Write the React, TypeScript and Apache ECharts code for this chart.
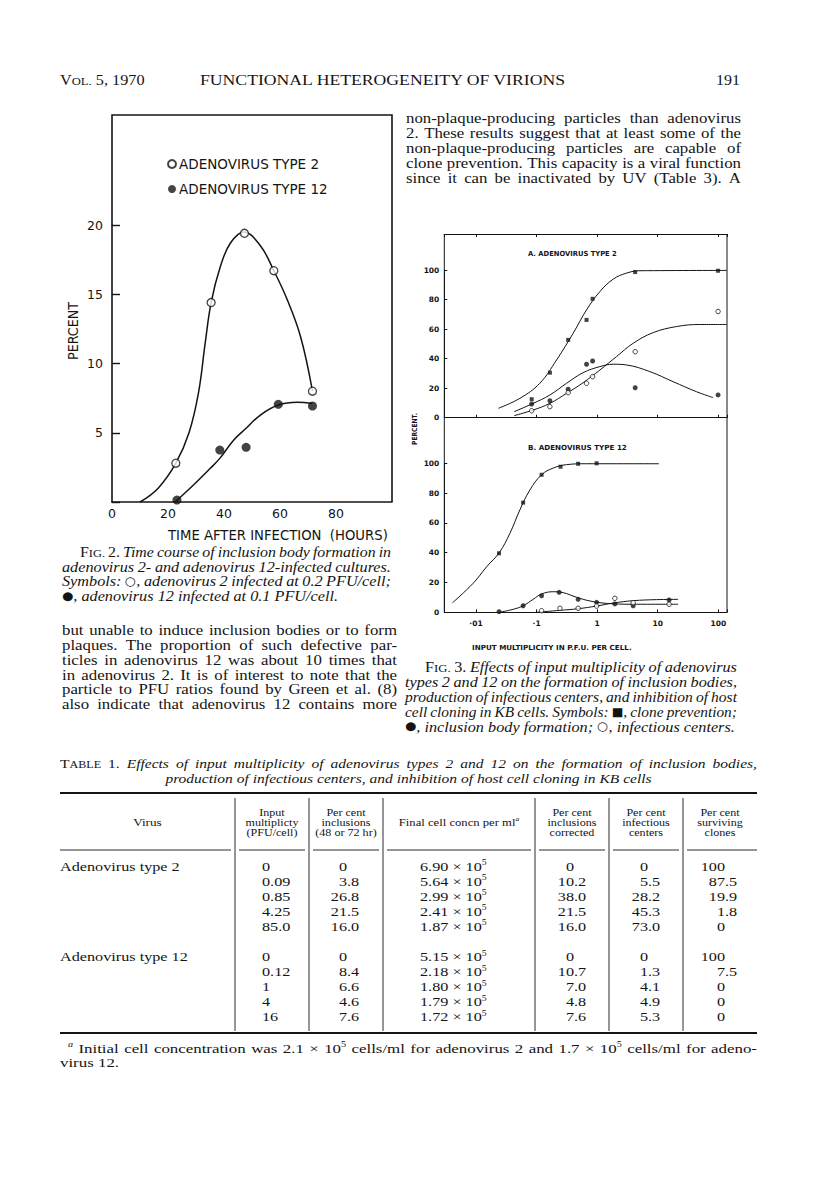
import React, { useEffect, useRef } from 'react';
import * as echarts from 'echarts';

// ---------------- Fig. 2 data (time course) ----------------
const fig2XTicks = [0, 20, 40, 60, 80];
const fig2YTicks = [0, 5, 10, 15, 20];
const fig2Type2Points = [[22.8, 2.8], [35.4, 14.4], [47.3, 19.4], [57.8, 16.7], [71.6, 8.0]];
const fig2Type12Points = [[23.2, 0.14], [38.5, 3.75], [47.9, 3.95], [59.4, 7.05], [71.6, 6.93]];
const fig2Type2Curve = [[10, 0], [16.5, 1.0], [22.8, 2.8], [27.5, 5.0], [30.9, 7.9], [33.3, 11.5], [35.4, 14.4], [38.7, 17.0], [42.3, 18.7], [47.1, 19.5], [53, 18.5], [57.8, 16.7], [62.6, 14.6], [67.4, 11.9], [71.6, 8.0]];
const fig2Type12Curve = [[22.5, 0], [29.1, 1.23], [35.1, 2.43], [38.5, 3.15], [43.5, 4.48], [47.9, 5.32], [53.0, 6.28], [59.4, 7.0], [66.2, 7.2], [71.6, 7.12]];

// ---------------- Fig. 3 data (input multiplicity) ----------------
const fig3XLabels = ['·01', '·1', '1', '10', '100'];
const fig3YTicks = [0, 20, 40, 60, 80, 100];
// A. adenovirus type 2
const aX = [0.083, 0.166, 0.332, 0.668, 0.84, 4.24, 99];
const aClone = [12.5, 30.5, 52.7, 66.2, 80.5, 98.6, 99.5];
const aInclusion = [9.3, 11.5, 19.3, 36.2, 38.4, 20.3, 15.4];
const aInfectious = [4.7, 7.5, 17.0, 23.3, 27.8, 44.7, 71.9];
const aCloneCurve = [[0.0235, 6.4], [0.053, 13.1], [0.113, 23.3], [0.214, 39.1], [0.402, 57.2], [0.668, 73.0], [1.11, 85.4], [1.84, 93.8], [3.05, 97.9], [5.07, 99.5], [138, 99.7]];
const aInclusionCurve = [[0.0427, 4.1], [0.0879, 9.7], [0.166, 15.4], [0.313, 23.3], [0.587, 30.5], [1.11, 34.6], [1.84, 36.2], [3.05, 35.7], [7.41, 31.2], [17.9, 24.4], [43.6, 17.6], [82, 13.6]];
const aInfectiousCurve = [[0.0427, 1.4], [0.0879, 5.2], [0.166, 9.7], [0.313, 16.5], [0.587, 23.7], [1.11, 32.3], [2.09, 41.4], [3.93, 50.4], [8.4, 57.6], [20.4, 61.7], [49.5, 63.1], [138, 63.1]];
// B. adenovirus type 12
const bCloneX = [0.024, 0.06, 0.121, 0.249, 0.485, 0.98];
const bClone = [39.6, 73.6, 92.3, 97.7, 99.7, 100];
const bInclusionX = [0.024, 0.06, 0.121, 0.236, 0.485, 0.98, 1.96, 3.93, 15.4];
const bInclusion = [0.4, 4.4, 11.1, 13.4, 8.7, 6.7, 5.6, 4.4, 8.3];
const bInfectiousX = [0.121, 0.243, 0.485, 0.98, 1.96, 3.93, 15.4];
const bInfectious = [1.1, 2.7, 2.7, 4.2, 9.4, 6.4, 5.4];
const bCloneCurve = [[0.0041, 6.4], [0.009, 19.5], [0.015, 30.6], [0.0242, 40], [0.0363, 53], [0.053, 68.7], [0.0776, 82.1], [0.121, 92.3], [0.188, 96.8], [0.313, 99.1], [0.668, 99.7], [10.5, 99.7]];
const bInclusionCurve = [[0.0242, 0], [0.0411, 2.0], [0.06, 4.4], [0.0879, 8.7], [0.121, 12.3], [0.188, 13.8], [0.275, 13.2], [0.456, 10.1], [0.759, 7.6], [1.43, 6.0], [3.93, 5.4], [21.7, 5.4]];
const bInfectiousCurve = [[0.1, 0], [0.242, 1.3], [0.485, 2.4], [0.977, 4.2], [1.84, 6.2], [3.93, 7.8], [9.55, 8.5], [21.7, 8.7]];

// ---------------- Table 1 ----------------
const tableGroups = ['Adenovirus type 2', 'Adenovirus type 12'];
const inputMult = [['0', '0.09', '0.85', '4.25', '85.0'], ['0', '0.12', '1', '4', '16']];
const pctInclusions = [['0', '3.8', '26.8', '21.5', '16.0'], ['0', '8.4', '6.6', '4.6', '7.6']];
const finalConc = [['6.90', '5.64', '2.99', '2.41', '1.87'], ['5.15', '2.18', '1.80', '1.79', '1.72']];
const pctCorrected = [['0', '10.2', '38.0', '21.5', '16.0'], ['0', '10.7', '7.0', '4.8', '7.6']];
const pctInfectious = [['0', '5.5', '28.2', '45.3', '73.0'], ['0', '1.3', '4.1', '4.9', '5.3']];
const pctSurviving = [['100', '87.5', '19.9', '1.8', '0'], ['100', '7.5', '0', '0', '0']];

// ---------------- Page text ----------------
type Run = { t: string; f: string };
const rightBody = [
  'non-plaque-producing particles than adenovirus',
  '2. These results suggest that at least some of the',
  'non-plaque-producing particles are capable of',
  'clone prevention. This capacity is a viral function',
  'since it can be inactivated by UV (Table 3). A',
];
const leftBody = [
  'but unable to induce inclusion bodies or to form',
  'plaques. The proportion of such defective par-',
  'ticles in adenovirus 12 was about 10 times that',
  'in adenovirus 2. It is of interest to note that the',
  'particle to PFU ratios found by Green et al. (8)',
  'also indicate that adenovirus 12 contains more',
];
const fig2Caption: Run[][] = [
  [{ t: 'FIG.', f: 'sc' }, { t: ' 2. ', f: 'r' }, { t: 'Time course of inclusion body formation in', f: 'i' }],
  [{ t: 'adenovirus 2- and adenovirus 12-infected cultures.', f: 'i' }],
  [{ t: 'Symbols: ', f: 'i' }, { t: '○', f: 'sym' }, { t: ', adenovirus 2 infected at 0.2 PFU/cell;', f: 'i' }],
  [{ t: '●', f: 'sym' }, { t: ', adenovirus 12 infected at 0.1 PFU/cell.', f: 'i' }],
];
const fig3Caption: Run[][] = [
  [{ t: 'FIG.', f: 'sc' }, { t: ' 3. ', f: 'r' }, { t: 'Effects of input multiplicity of adenovirus', f: 'i' }],
  [{ t: 'types 2 and 12 on the formation of inclusion bodies,', f: 'i' }],
  [{ t: 'production of infectious centers, and inhibition of host', f: 'i' }],
  [{ t: 'cell cloning in KB cells. Symbols: ', f: 'i' }, { t: '■', f: 'sym' }, { t: ', clone prevention;', f: 'i' }],
  [{ t: '●', f: 'sym' }, { t: ', inclusion body formation; ', f: 'i' }, { t: '○', f: 'sym' }, { t: ', infectious centers.', f: 'i' }],
];
const tableCaption: Run[][] = [
  [{ t: 'TABLE', f: 'sc' }, { t: ' 1. ', f: 'r' }, { t: 'Effects of input multiplicity of adenovirus types 2 and 12 on the formation of inclusion bodies,', f: 'i' }],
  [{ t: 'production of infectious centers, and inhibition of host cell cloning in KB cells', f: 'i' }],
];
const footnote: Run[][] = [
  [{ t: 'a', f: 'supi' }, { t: ' Initial cell concentration was 2.1 × 10', f: 'r' }, { t: '5', f: 'sup' }, { t: ' cells/ml for adenovirus 2 and 1.7 × 10', f: 'r' }, { t: '5', f: 'sup' }, { t: ' cells/ml for adeno-', f: 'r' }],
  [{ t: 'virus 12.', f: 'r' }],
];
const headerCols = [
  { cx: 272, lines: ['Input', 'multiplicty', '(PFU/cell)'] },
  { cx: 346, lines: ['Per cent', 'inclusions', '(48 or 72 hr)'] },
  { cx: 572, lines: ['Per cent', 'inclusions', 'corrected'] },
  { cx: 646, lines: ['Per cent', 'infectious', 'centers'] },
  { cx: 720, lines: ['Per cent', 'surviving', 'clones'] },
];

// ---------------- helpers ----------------
const INK = '#141414';
const SERIF = '"Liberation Serif", "Times New Roman", serif';
const SANS = '"DejaVu Sans", "Liberation Sans", sans-serif';
const S = 1.2;

let ctx: CanvasRenderingContext2D | null = null;
function tw(text: string, font: string) {
  if (!ctx) ctx = document.createElement('canvas').getContext('2d');
  ctx!.font = font;
  return ctx!.measureText(text).width;
}

function pieces(word: string, kind: string, size: number) {
  if (kind === 'i') return [{ t: word, font: `italic ${size}px ${SERIF}`, dy: 0 }];
  if (kind === 'sc') {
    const s2 = size * 0.78;
    const out = [{ t: word[0], font: `${size}px ${SERIF}`, dy: 0 }];
    if (word.length > 1) out.push({ t: word.slice(1), font: `${s2}px ${SERIF}`, dy: 0.34 * (size - s2) });
    return out;
  }
  if (kind === 'sup') return [{ t: word, font: `${size * 0.6}px ${SERIF}`, dy: -size * 0.27 }];
  if (kind === 'supi') return [{ t: word, font: `italic ${size * 0.6}px ${SERIF}`, dy: -size * 0.27 }];
  if (kind === 'sym') return [{ t: word, font: `${size * 0.8}px ${SANS}`, dy: 0 }];
  return [{ t: word, font: `${size}px ${SERIF}`, dy: 0 }];
}

function runsToWords(runs: Run[], size: number) {
  const words: any[][] = [];
  let cur: any[] = [];
  for (const r of runs) {
    const parts = r.t.split(' ');
    parts.forEach((p, i) => {
      if (i > 0 && cur.length) { words.push(cur); cur = []; }
      if (p) cur.push(...pieces(p, r.f, size));
    });
  }
  if (cur.length) words.push(cur);
  return words;
}

function txt(x: number, y: number, text: string, font: string, scaleX = 1, align = 'left', extra: any = {}) {
  return {
    type: 'text', x, y, scaleX, silent: true, ...extra,
    style: { text, font, fill: INK, textAlign: align, align, textVerticalAlign: 'middle', verticalAlign: 'middle' },
  };
}

function layoutLine(runs: Run[], x0: number, x1: number, y: number, size: number, mode: string, s = S) {
  const words = runsToWords(runs, size);
  const widths = words.map((w) => w.reduce((a: number, p: any) => a + tw(p.t, p.font), 0));
  const space = tw(' ', `${size}px ${SERIF}`);
  const total = widths.reduce((a, b) => a + b, 0);
  const n = words.length;
  const avail = x1 - x0;
  let sc = s;
  if (mode === 'justify' && n > 1) {
    const minGap = space * 0.75 * s;
    if (total * sc + minGap * (n - 1) > avail) sc = (avail - minGap * (n - 1)) / total;
  }
  let gap = space * sc;
  const lineW = total * sc + gap * (n - 1);
  let x = x0;
  if (mode === 'justify' && n > 1) gap = (avail - total * sc) / (n - 1);
  else if (mode === 'center') x = (x0 + x1) / 2 - lineW / 2;
  else if (mode === 'right') x = x1 - lineW;
  const els: any[] = [];
  words.forEach((w) => {
    w.forEach((p: any) => {
      els.push(txt(x, y + p.dy, p.t, p.font, sc));
      x += tw(p.t, p.font) * sc;
    });
    x += gap;
  });
  return els;
}

function fitText(text: string, x0: number, x1: number, y: number, font: string) {
  return txt(x0, y, text, font, (x1 - x0) / tw(text, font));
}
function fitRot(text: string, cx: number, cy: number, len: number, font: string) {
  return txt(cx, cy, text, font, len / tw(text, font), 'center', { rotation: Math.PI / 2 });
}
function decimalAt(v: string, dx: number, y: number, size: number) {
  const font = `${size}px ${SERIF}`;
  const intPart = v.split('.')[0];
  return txt(dx - tw(intPart, font) * S, y, v, font, S);
}

function buildGraphics() {
  const els: any[] = [];
  const line = (x1: number, y1: number, x2: number, y2: number, w = 1) =>
    els.push({ type: 'line', silent: true, shape: { x1, y1, x2, y2 }, style: { stroke: INK, lineWidth: w } });

  // running head
  els.push(...layoutLine([{ t: 'VOL.', f: 'sc' }, { t: ' 5, 1970', f: 'r' }], 60, 200, 80, 14.5, 'left', 1.12));
  els.push(fitText('FUNCTIONAL HETEROGENEITY OF VIRIONS', 200, 567, 80, `14.5px ${SERIF}`));
  els.push(fitText('191', 716, 740, 80, `15.5px ${SERIF}`));

  // body text
  rightBody.forEach((l, i) => els.push(...layoutLine([{ t: l, f: 'r' }], 406, 741, 117.5 + i * 15, 15, 'justify', 1.12)));
  leftBody.forEach((l, i) => els.push(...layoutLine([{ t: l, f: 'r' }], 62, 397, 630 + i * 14.8, 15, 'justify', 1.12)));

  // Fig. 2 frame + labels
  els.push({ type: 'polyline', silent: true, shape: { points: [[112, 225], [112, 115], [392, 115], [392, 502]] }, style: { stroke: INK, lineWidth: 1.6, fill: null } });
  els.push(fitText('TIME AFTER INFECTION  (HOURS)', 168, 388, 535, `13.5px ${SANS}`));
  els.push(fitRot('PERCENT', 73, 331, 58, `13.5px ${SANS}`));
  fig2Caption.forEach((runs, i) =>
    els.push(...layoutLine(runs, i === 0 ? 80 : 62, 391, 552 + i * 14.6, 14.5, i === fig2Caption.length - 1 ? 'left' : 'justify', 1.12)));

  // Fig. 3 frame + labels
  line(444.3, 234, 444.3, 612.3, 1);
  line(727, 234, 727, 612.3, 1);
  els.push(fitText('A. ADENOVIRUS TYPE 2', 528, 617, 254, `bold 7px ${SANS}`));
  els.push(fitText('B. ADENOVIRUS TYPE 12', 528, 627, 448, `bold 7px ${SANS}`));
  els.push(fitText('INPUT MULTIPLICITY IN P.F.U. PER CELL.', 472, 632, 648, `bold 7px ${SANS}`));
  els.push(fitRot('PERCENT.', 415, 429, 32, `bold 7px ${SANS}`));
  fig3Caption.forEach((runs, i) =>
    els.push(...layoutLine(runs, i === 0 ? 425 : 405, 737, 666.7 + i * 15, 14.5, i === fig3Caption.length - 1 ? 'left' : 'justify', 1.12)));

  // Table 1
  els.push(...layoutLine(tableCaption[0], 60, 757, 763, 13.5, 'justify', 1.15));
  els.push(...layoutLine(tableCaption[1], 60, 757, 778, 13.5, 'center', 1.15));
  line(60, 793, 757, 793, 2);
  const seps = [235, 309, 383, 535, 609, 683];
  seps.forEach((x) => line(x, 798, x, 1031, 0.9));
  const segs = [[60, 231], [239, 305], [313, 379], [387, 531], [539, 605], [613, 679], [687, 757]];
  segs.forEach(([a, b]) => line(a, 850, b, 850, 0.9));
  line(60, 1033, 757, 1033, 2);

  els.push(...layoutLine([{ t: 'Virus', f: 'r' }], 60, 235, 822, 11, 'center'));
  headerCols.forEach((c) => c.lines.forEach((l, j) =>
    els.push(...layoutLine([{ t: l, f: 'r' }], c.cx - 40, c.cx + 40, 812 + j * 10, 10.5, 'center', 1.15))));
  els.push(...layoutLine([{ t: 'Final cell concn per ml', f: 'r' }, { t: 'a', f: 'supi' }], 383, 535, 822, 11, 'center', 1.15));

  tableGroups.forEach((g, gi) => {
    const y0 = gi === 0 ? 866 : 956.5;
    els.push(...layoutLine([{ t: g, f: 'r' }], 60, 235, y0, 13.5, 'left'));
    for (let r = 0; r < 5; r++) {
      const y = y0 + r * 15;
      els.push(txt(262, y, inputMult[gi][r], `13.5px ${SERIF}`, S));
      els.push(decimalAt(pctInclusions[gi][r], 347, y, 13.5));
      els.push(...layoutLine([{ t: `${finalConc[gi][r]} × 10`, f: 'r' }, { t: '5', f: 'sup' }], 420, 530, y, 13.5, 'left'));
      els.push(decimalAt(pctCorrected[gi][r], 574, y, 13.5));
      els.push(decimalAt(pctInfectious[gi][r], 648, y, 13.5));
      els.push(decimalAt(pctSurviving[gi][r], 725, y, 13.5));
    }
  });
  els.push(...layoutLine(footnote[0], 68, 757, 1048, 13.5, 'justify', 1.25));
  els.push(...layoutLine(footnote[1], 60, 757, 1062, 13.5, 'left', 1.25));
  return els;
}

function fig3Label(v: number) {
  const k = Math.log10(v);
  const r = Math.round(k);
  if (Math.abs(k - r) < 1e-6 && r >= -2 && r <= 2) return fig3XLabels[r + 2];
  return '';
}

function buildOption() {
  const curve = (data: number[][], xi: number, yi: number, w: number) => ({
    type: 'line', data, xAxisIndex: xi, yAxisIndex: yi, smooth: 0.4, showSymbol: false, silent: true, clip: false,
    lineStyle: { color: INK, width: w }, z: 3,
  });
  const pts = (xs: number[], ys: number[]) => xs.map((x, i) => [x, ys[i]]);
  const sq = (data: number[][], xi: number, yi: number) => ({ type: 'scatter', data, xAxisIndex: xi, yAxisIndex: yi, symbol: 'rect', symbolSize: 4, itemStyle: { color: INK }, silent: true, z: 5 });
  const dot = (data: number[][], xi: number, yi: number) => ({ type: 'scatter', data, xAxisIndex: xi, yAxisIndex: yi, symbol: 'circle', symbolSize: 5, itemStyle: { color: INK }, silent: true, z: 5 });
  const ring = (data: number[][], xi: number, yi: number) => ({ type: 'scatter', data, xAxisIndex: xi, yAxisIndex: yi, symbol: 'circle', symbolSize: 4.5, itemStyle: { color: '#fff', borderColor: INK, borderWidth: 1 }, silent: true, z: 6 });

  const logAxis = (gridIndex: number, extra: any) => ({
    gridIndex, type: 'log', logBase: 10, min: 0.003, max: 139,
    axisLine: { show: true, lineStyle: { color: INK, width: 1 } },
    axisTick: { show: true, inside: true, length: 3, lineStyle: { color: INK, width: 1 } },
    splitLine: { show: false }, minorTick: { show: false },
    axisLabel: { show: false },
    ...extra,
  });
  const pctAxis = (gridIndex: number) => ({
    gridIndex, type: 'value', min: 0, max: 100, interval: 20,
    axisLine: { show: true, lineStyle: { color: INK, width: 1 } },
    axisTick: { show: true, inside: true, length: 3, lineStyle: { color: INK } },
    splitLine: { show: false },
    axisLabel: { formatter: (v: number) => (fig3YTicks.includes(v) ? String(v) : ''), color: INK, fontFamily: SANS, fontWeight: 'bold', fontSize: 7.5, margin: 5 },
  });

  return {
    animation: false,
    backgroundColor: '#ffffff',
    grid: [
      { left: 112, top: 225, width: 280, height: 277 },
      { left: 444.3, top: 270, width: 282.7, height: 147.7 },
      { left: 444.3, top: 463.3, width: 282.7, height: 149 },
    ],
    legend: {
      data: [{ name: 'ADENOVIRUS TYPE 2', icon: 'circle' }, { name: 'ADENOVIRUS TYPE 12', icon: 'circle' }],
      orient: 'vertical', left: 162, top: 152, itemWidth: 8, itemHeight: 8, itemGap: 11, selectedMode: false,
      textStyle: { fontFamily: SANS, fontSize: 13.5, color: INK, padding: [0, 0, 0, -2] },
    },
    xAxis: [
      {
        gridIndex: 0, type: 'value', min: 0, max: 100, interval: 20,
        axisLine: { show: true, lineStyle: { color: INK, width: 1.6 } },
        axisTick: { show: false }, splitLine: { show: false },
        axisLabel: { formatter: (v: number) => (fig2XTicks.includes(v) ? String(v) : ''), color: INK, fontFamily: SANS, fontSize: 12.5, margin: 5 },
      },
      logAxis(1, {}),
      logAxis(1, { position: 'top', offset: 36 }),
      logAxis(2, { axisLabel: { show: true, formatter: fig3Label, color: INK, fontFamily: SANS, fontWeight: 'bold', fontSize: 7.5, margin: 7 } }),
    ],
    yAxis: [
      {
        gridIndex: 0, type: 'value', min: 0, max: 20, interval: 5,
        axisLine: { show: true, lineStyle: { color: INK, width: 1.6 } },
        axisTick: { show: true, inside: true, length: 8, lineStyle: { color: INK, width: 1.4 } },
        splitLine: { show: false },
        axisLabel: { formatter: (v: number) => (fig2YTicks.includes(v) && v > 0 ? String(v) : ''), color: INK, fontFamily: SANS, fontSize: 12.5, margin: 9 },
      },
      pctAxis(1),
      pctAxis(2),
    ],
    series: [
      curve(fig2Type2Curve, 0, 0, 1.5),
      curve(fig2Type12Curve, 0, 0, 1.5),
      { name: 'ADENOVIRUS TYPE 2', type: 'scatter', data: fig2Type2Points, xAxisIndex: 0, yAxisIndex: 0, symbol: 'circle', symbolSize: 8, itemStyle: { color: '#fff', borderColor: INK, borderWidth: 1.3 }, silent: true, z: 6 },
      { name: 'ADENOVIRUS TYPE 12', type: 'scatter', data: fig2Type12Points, xAxisIndex: 0, yAxisIndex: 0, symbol: 'circle', symbolSize: 9, itemStyle: { color: INK }, silent: true, z: 6 },
      curve(aCloneCurve, 1, 1, 1),
      curve(aInclusionCurve, 1, 1, 1),
      curve(aInfectiousCurve, 1, 1, 1),
      sq(pts(aX, aClone), 1, 1),
      dot(pts(aX, aInclusion), 1, 1),
      ring(pts(aX, aInfectious), 1, 1),
      curve(bCloneCurve, 3, 2, 1),
      curve(bInclusionCurve, 3, 2, 1),
      curve(bInfectiousCurve, 3, 2, 1),
      sq(pts(bCloneX, bClone), 3, 2),
      dot(pts(bInclusionX, bInclusion), 3, 2),
      ring(pts(bInfectiousX, bInfectious), 3, 2),
    ],
    graphic: { elements: buildGraphics() },
  };
}

export default function App() {
  const ref = useRef<HTMLDivElement>(null);
  useEffect(() => {
    const chart = echarts.init(ref.current!, null, { renderer: 'svg' });
    chart.setOption(buildOption() as any);
    return () => chart.dispose();
  }, []);
  return <div ref={ref} style={{ position: 'absolute', left: 0, top: 0, width: 816, height: 1198, background: '#fff' }} />;
}
